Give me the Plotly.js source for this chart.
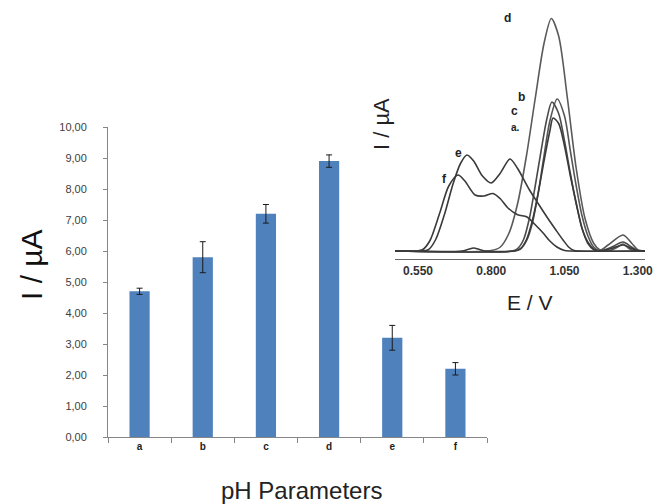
<!DOCTYPE html>
<html>
<head>
<meta charset="utf-8">
<script src="https://cdn.plot.ly/plotly-3.0.1.min.js"></script>
<style>html,body{margin:0;padding:0;background:#fff;}#chart{width:656px;height:504px;}</style>
</head>
<body>
<div id="chart"></div>
<script>
// ---- Bar chart data ----
const categories = ['a', 'b', 'c', 'd', 'e', 'f'];
const currents = [4.7, 5.8, 7.2, 8.9, 3.2, 2.2];
const errors = [0.1, 0.5, 0.3, 0.2, 0.4, 0.2];
const yTickVals = [0, 1, 2, 3, 4, 5, 6, 7, 8, 9, 10];

// ---- Inset voltammogram data (E / V, I arbitrary) ----
const aE = [0.47, 0.70, 0.72, 0.74, 0.76, 0.78, 0.88, 0.90, 0.92, 0.94, 0.96, 0.98, 1.00, 1.011, 1.03, 1.05, 1.07, 1.09, 1.11, 1.13, 1.15, 1.17, 1.21, 1.25, 1.28, 1.30, 1.325];
const aI = [0, 0, 0.06, 0.12, 0.06, 0, 0, 0.1, 0.45, 1.2, 2.3, 3.6, 4.8, 5.32, 5.1, 4.2, 3.0, 1.9, 0.9, 0.3, 0.05, 0, 0.1, 0.24, 0.1, 0, 0];
const bE = [0.47, 0.88, 0.90, 0.92, 0.94, 0.96, 0.98, 1.00, 1.025, 1.05, 1.07, 1.09, 1.11, 1.13, 1.15, 1.17, 1.20, 1.25, 1.28, 1.30, 1.325];
const bI = [0, 0, 0.08, 0.4, 1.1, 2.3, 3.8, 5.2, 6.08, 5.4, 4.0, 2.6, 1.4, 0.6, 0.15, 0.02, 0.25, 0.64, 0.3, 0.05, 0];
const cE = [0.47, 0.87, 0.89, 0.91, 0.93, 0.95, 0.97, 0.99, 1.007, 1.03, 1.05, 1.07, 1.09, 1.11, 1.13, 1.15, 1.17, 1.21, 1.25, 1.28, 1.30, 1.325];
const cI = [0, 0, 0.1, 0.45, 1.3, 2.6, 4.0, 5.3, 5.96, 5.5, 4.4, 3.1, 1.9, 0.9, 0.35, 0.08, 0, 0.15, 0.36, 0.15, 0.02, 0];
const dE = [0.47, 0.80, 0.83, 0.86, 0.89, 0.92, 0.95, 0.98, 1.005, 1.03, 1.06, 1.09, 1.12, 1.15, 1.17, 1.20, 1.23, 1.25, 1.27, 1.29, 1.325];
const dI = [0, 0.02, 0.15, 0.7, 1.9, 3.8, 6.1, 8.3, 9.3, 8.6, 6.1, 3.3, 1.3, 0.3, 0.05, 0, 0.15, 0.28, 0.1, 0, 0];
const eE = [0.47, 0.56, 0.585, 0.61, 0.64, 0.67, 0.695, 0.717, 0.74, 0.77, 0.80, 0.83, 0.864, 0.89, 0.93, 0.96, 0.99, 1.02, 1.045, 1.065, 1.08, 1.10, 1.325];
const eI = [0, 0, 0.05, 0.45, 1.45, 2.7, 3.5, 3.84, 3.6, 3.0, 2.72, 3.1, 3.68, 3.3, 2.45, 1.9, 1.36, 0.85, 0.44, 0.15, 0.03, 0, 0];
const fE = [0.47, 0.545, 0.565, 0.59, 0.625, 0.655, 0.6865, 0.71, 0.745, 0.775, 0.806, 0.83, 0.857, 0.89, 0.922, 0.95, 0.977, 1.00, 1.024, 1.05, 1.07, 1.325];
const fI = [0, 0, 0.05, 0.4, 1.55, 2.6, 3.04, 2.8, 2.24, 2.2, 2.3, 2.1, 1.72, 1.45, 1.36, 1.05, 0.72, 0.4, 0.16, 0.02, 0, 0];
const insetTickVals = [0.55, 0.80, 1.05, 1.30];
const insetTickText = ['0.550', '0.800', '1.050', '1.300'];

const W = 656, H = 504;
const px = x => x / W;
const py = y => 1 - y / H;

const lineStyle = (c) => ({color: c, width: 1.6, shape: 'spline', smoothing: 0.8});
function curve(E, I, color) {
  return {x: E, y: I, xaxis: 'x2', yaxis: 'y2', type: 'scatter', mode: 'lines',
          line: lineStyle(color), hoverinfo: 'skip'};
}

const traces = [
  {
    type: 'bar', x: categories, y: currents,
    marker: {color: '#4f81bd'},
    error_y: {type: 'data', array: errors, visible: true, color: '#1a1a1a', thickness: 1, width: 3},
    xaxis: 'x', yaxis: 'y'
  },
  curve(dE, dI, '#5a5a5a'),
  curve(bE, bI, '#555555'),
  curve(cE, cI, '#4a4a4a'),
  curve(aE, aI, '#3a3a3a'),
  curve(eE, eI, '#3a3a3a'),
  curve(fE, fI, '#3a3a3a')
];

const baseFont = 'Liberation Sans, Arial, sans-serif';

const layout = {
  width: W, height: H,
  margin: {l: 0, r: 0, t: 0, b: 0},
  paper_bgcolor: '#ffffff',
  plot_bgcolor: 'rgba(0,0,0,0)',
  showlegend: false,
  separators: ',.',
  font: {family: baseFont, color: '#333'},
  bargap: 0.68,
  xaxis: {
    domain: [px(108), px(487)],
    type: 'category',
    range: [-0.5, 5.5],
    tickson: 'boundaries',
    ticks: 'outside', ticklen: 5, tickcolor: '#868686', tickwidth: 1,
    showline: true, linecolor: '#868686', linewidth: 1,
    showgrid: false, zeroline: false,
    tickfont: {size: 10, family: baseFont, color: '#222', weight: 'bold'},
    anchor: 'y',
    fixedrange: true
  },
  yaxis: {
    domain: [py(437), py(127)],
    range: [0, 10],
    tickvals: yTickVals,
    tickformat: '.2f',
    ticks: 'outside', ticklen: 4, tickcolor: '#868686', tickwidth: 1,
    ticklabelstandoff: 14,
    showline: true, linecolor: '#868686', linewidth: 1,
    showgrid: false, zeroline: false,
    tickfont: {size: 11, family: baseFont, color: '#404040'},
    anchor: 'x',
    fixedrange: true
  },
  xaxis2: {
    domain: [px(395), px(645)],
    range: [0.4715, 1.3247],
    tickvals: insetTickVals, ticktext: insetTickText,
    ticks: '', 
    showline: true, linecolor: '#666', linewidth: 1.2,
    showgrid: false, zeroline: false,
    tickfont: {size: 12, family: baseFont, color: '#333', weight: 'bold'},
    anchor: 'y2',
    fixedrange: true
  },
  yaxis2: {
    domain: [py(259), py(8)],
    range: [-0.32, 9.72],
    visible: false,
    anchor: 'x2',
    fixedrange: true
  },
  annotations: [
    {text: 'I / µA', xref: 'paper', yref: 'paper', x: px(31), y: py(265), textangle: -90,
     showarrow: false, font: {size: 30, family: baseFont, color: '#111'}, xanchor: 'center', yanchor: 'middle'},
    {text: 'pH Parameters', xref: 'paper', yref: 'paper', x: px(301), y: py(490),
     showarrow: false, font: {size: 24, family: baseFont, color: '#222'}, xanchor: 'center', yanchor: 'middle'},
    {text: 'I / µA', xref: 'paper', yref: 'paper', x: px(381), y: py(124), textangle: -90,
     showarrow: false, font: {size: 22, family: baseFont, color: '#222'}, xanchor: 'center', yanchor: 'middle'},
    {text: 'E / V', xref: 'paper', yref: 'paper', x: px(530), y: py(302),
     showarrow: false, font: {size: 21, family: baseFont, color: '#222'}, xanchor: 'center', yanchor: 'middle'},
    {text: '<b>d</b>', xref: 'x2', yref: 'y2', x: 0.857, y: 9.32, showarrow: false, font: {size: 12, color: '#222'}},
    {text: '<b>b</b>', xref: 'x2', yref: 'y2', x: 0.9015, y: 6.16, showarrow: false, font: {size: 12, color: '#222'}},
    {text: '<b>c</b>', xref: 'x2', yref: 'y2', x: 0.878, y: 5.6, showarrow: false, font: {size: 12, color: '#222'}},
    {text: '<b>a.</b>', xref: 'x2', yref: 'y2', x: 0.882, y: 4.92, showarrow: false, font: {size: 10, color: '#222'}},
    {text: '<b>e</b>', xref: 'x2', yref: 'y2', x: 0.6865, y: 3.92, showarrow: false, font: {size: 12, color: '#222'}},
    {text: '<b>f</b>', xref: 'x2', yref: 'y2', x: 0.639, y: 2.88, showarrow: false, font: {size: 12, color: '#222'}}
  ]
};

Plotly.newPlot('chart', traces, layout, {displayModeBar: false, staticPlot: true});
</script>
</body>
</html>
